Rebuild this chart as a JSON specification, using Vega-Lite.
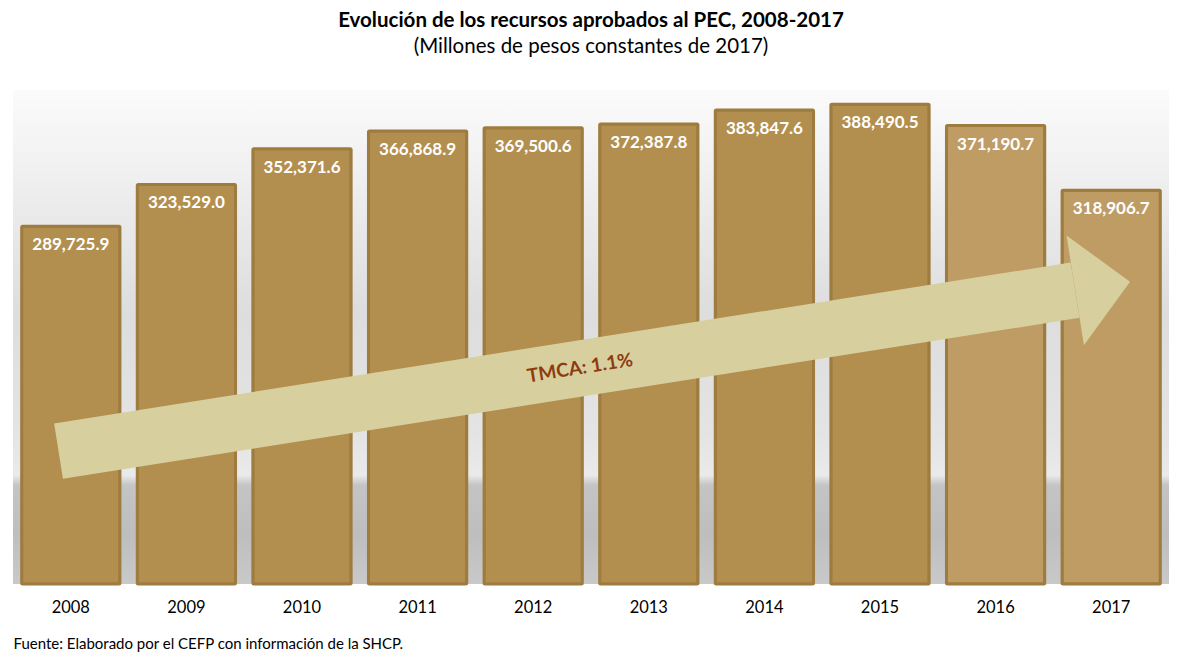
{
  "$schema": "https://vega.github.io/schema/vega-lite/v6.json",
  "width": 1156,
  "height": 494,
  "autosize": {"type": "none"},
  "padding": {"left": 13, "top": 90, "right": 8, "bottom": 74},
  "background": "#ffffff",
  "title": {
    "text": "Evolución de los recursos aprobados al PEC, 2008-2017",
    "subtitle": "(Millones de pesos constantes de 2017)",
    "anchor": "middle",
    "font": "Lato",
    "fontSize": 20.5,
    "fontWeight": "bold",
    "color": "#000000",
    "subtitleFont": "Lato",
    "subtitleFontSize": 20.5,
    "subtitleColor": "#000000",
    "subtitlePadding": 5,
    "offset": 33
  },
  "config": {
    "view": {
      "stroke": null,
      "fill": {
        "gradient": "linear",
        "x1": 0, "y1": 0, "x2": 0, "y2": 1,
        "stops": [
          {"offset": 0, "color": "#FBFBFB"},
          {"offset": 0.45, "color": "#DDDDDD"},
          {"offset": 0.7, "color": "#E4E4E4"},
          {"offset": 0.78, "color": "#EAEAEA"},
          {"offset": 0.8, "color": "#C4C4C4"},
          {"offset": 0.9, "color": "#BEBEBE"},
          {"offset": 1, "color": "#C9C9C9"}
        ]
      }
    },
    "font": "Lato"
  },
  "datasets": {
    "pec": [
      {"year": 2008, "monto": 289725.9},
      {"year": 2009, "monto": 323529.0},
      {"year": 2010, "monto": 352371.6},
      {"year": 2011, "monto": 366868.9},
      {"year": 2012, "monto": 369500.6},
      {"year": 2013, "monto": 372387.8},
      {"year": 2014, "monto": 383847.6},
      {"year": 2015, "monto": 388490.5},
      {"year": 2016, "monto": 371190.7},
      {"year": 2017, "monto": 318906.7}
    ],
    "flecha": [
      {"pos": 2007.894, "monto": 107600},
      {"pos": 2016.687, "monto": 237900}
    ],
    "punta": [
      {"pos": 2017.163, "monto": 244800}
    ],
    "tmca": [
      {"pos": 2012.405, "monto": 174800, "label": "TMCA: 1.1%"}
    ]
  },
  "resolve": {"scale": {"x": "independent"}},
  "layer": [
    {
      "data": {"name": "pec"},
      "mark": {"type": "bar", "stroke": "#9E7C40", "strokeWidth": 3, "cornerRadius": 1},
      "encoding": {
        "x": {
          "field": "year", "type": "ordinal",
          "scale": {"paddingInner": 0.15, "paddingOuter": 0.075},
          "axis": {
            "title": "Fuente: Elaborado por el CEFP con información de la SHCP.",
            "titleAnchor": "start",
            "titleAlign": "left",
            "titleFont": "Lato",
            "titleFontSize": 15,
            "titleFontWeight": "normal",
            "titleColor": "#000000",
            "titlePadding": 21,
            "labelAngle": 0,
            "labelFont": "Lato",
            "labelFontSize": 16.5,
            "labelColor": "#000000",
            "labelPadding": 15,
            "ticks": false,
            "domain": false
          }
        },
        "y": {
          "field": "monto", "type": "quantitative",
          "scale": {"domain": [0, 400000], "nice": false},
          "axis": null
        },
        "fill": {
          "condition": {"test": "datum.year >= 2016", "value": "#BF9C64"},
          "value": "#B38F4F"
        }
      }
    },
    {
      "data": {"name": "flecha"},
      "mark": {"type": "line", "strokeWidth": 56, "strokeCap": "butt", "color": "#D8CF9F", "opacity": 1},
      "encoding": {
        "x": {"field": "pos", "type": "quantitative", "scale": {"domain": [2007.5, 2017.5], "nice": false, "zero": false}, "axis": null},
        "y": {"field": "monto", "type": "quantitative"}
      }
    },
    {
      "data": {"name": "punta"},
      "mark": {"type": "point", "shape": "M -1 -1 L 0 0 L -1 1 Z", "filled": true, "size": 12321, "angle": -9, "color": "#D8CF9F", "opacity": 1, "strokeWidth": 0},
      "encoding": {
        "x": {"field": "pos", "type": "quantitative", "scale": {"domain": [2007.5, 2017.5], "nice": false, "zero": false}, "axis": null},
        "y": {"field": "monto", "type": "quantitative"}
      }
    },
    {
      "data": {"name": "tmca"},
      "mark": {"type": "text", "angle": -9, "font": "Lato", "fontSize": 19, "fontWeight": "bold", "color": "#8E3B0E", "align": "center", "baseline": "middle"},
      "encoding": {
        "x": {"field": "pos", "type": "quantitative", "scale": {"domain": [2007.5, 2017.5], "nice": false, "zero": false}, "axis": null},
        "y": {"field": "monto", "type": "quantitative"},
        "text": {"field": "label"}
      }
    },
    {
      "data": {"name": "pec"},
      "mark": {"type": "text", "font": "Lato", "fontSize": 17, "fontWeight": "bold", "color": "#FFFFFF", "align": "center", "baseline": "middle", "dy": 19},
      "encoding": {
        "x": {"field": "year", "type": "ordinal", "scale": {"paddingInner": 0.15, "paddingOuter": 0.075}, "axis": null},
        "y": {"field": "monto", "type": "quantitative"},
        "text": {"field": "monto", "type": "quantitative", "format": ",.1f"}
      }
    }
  ]
}
